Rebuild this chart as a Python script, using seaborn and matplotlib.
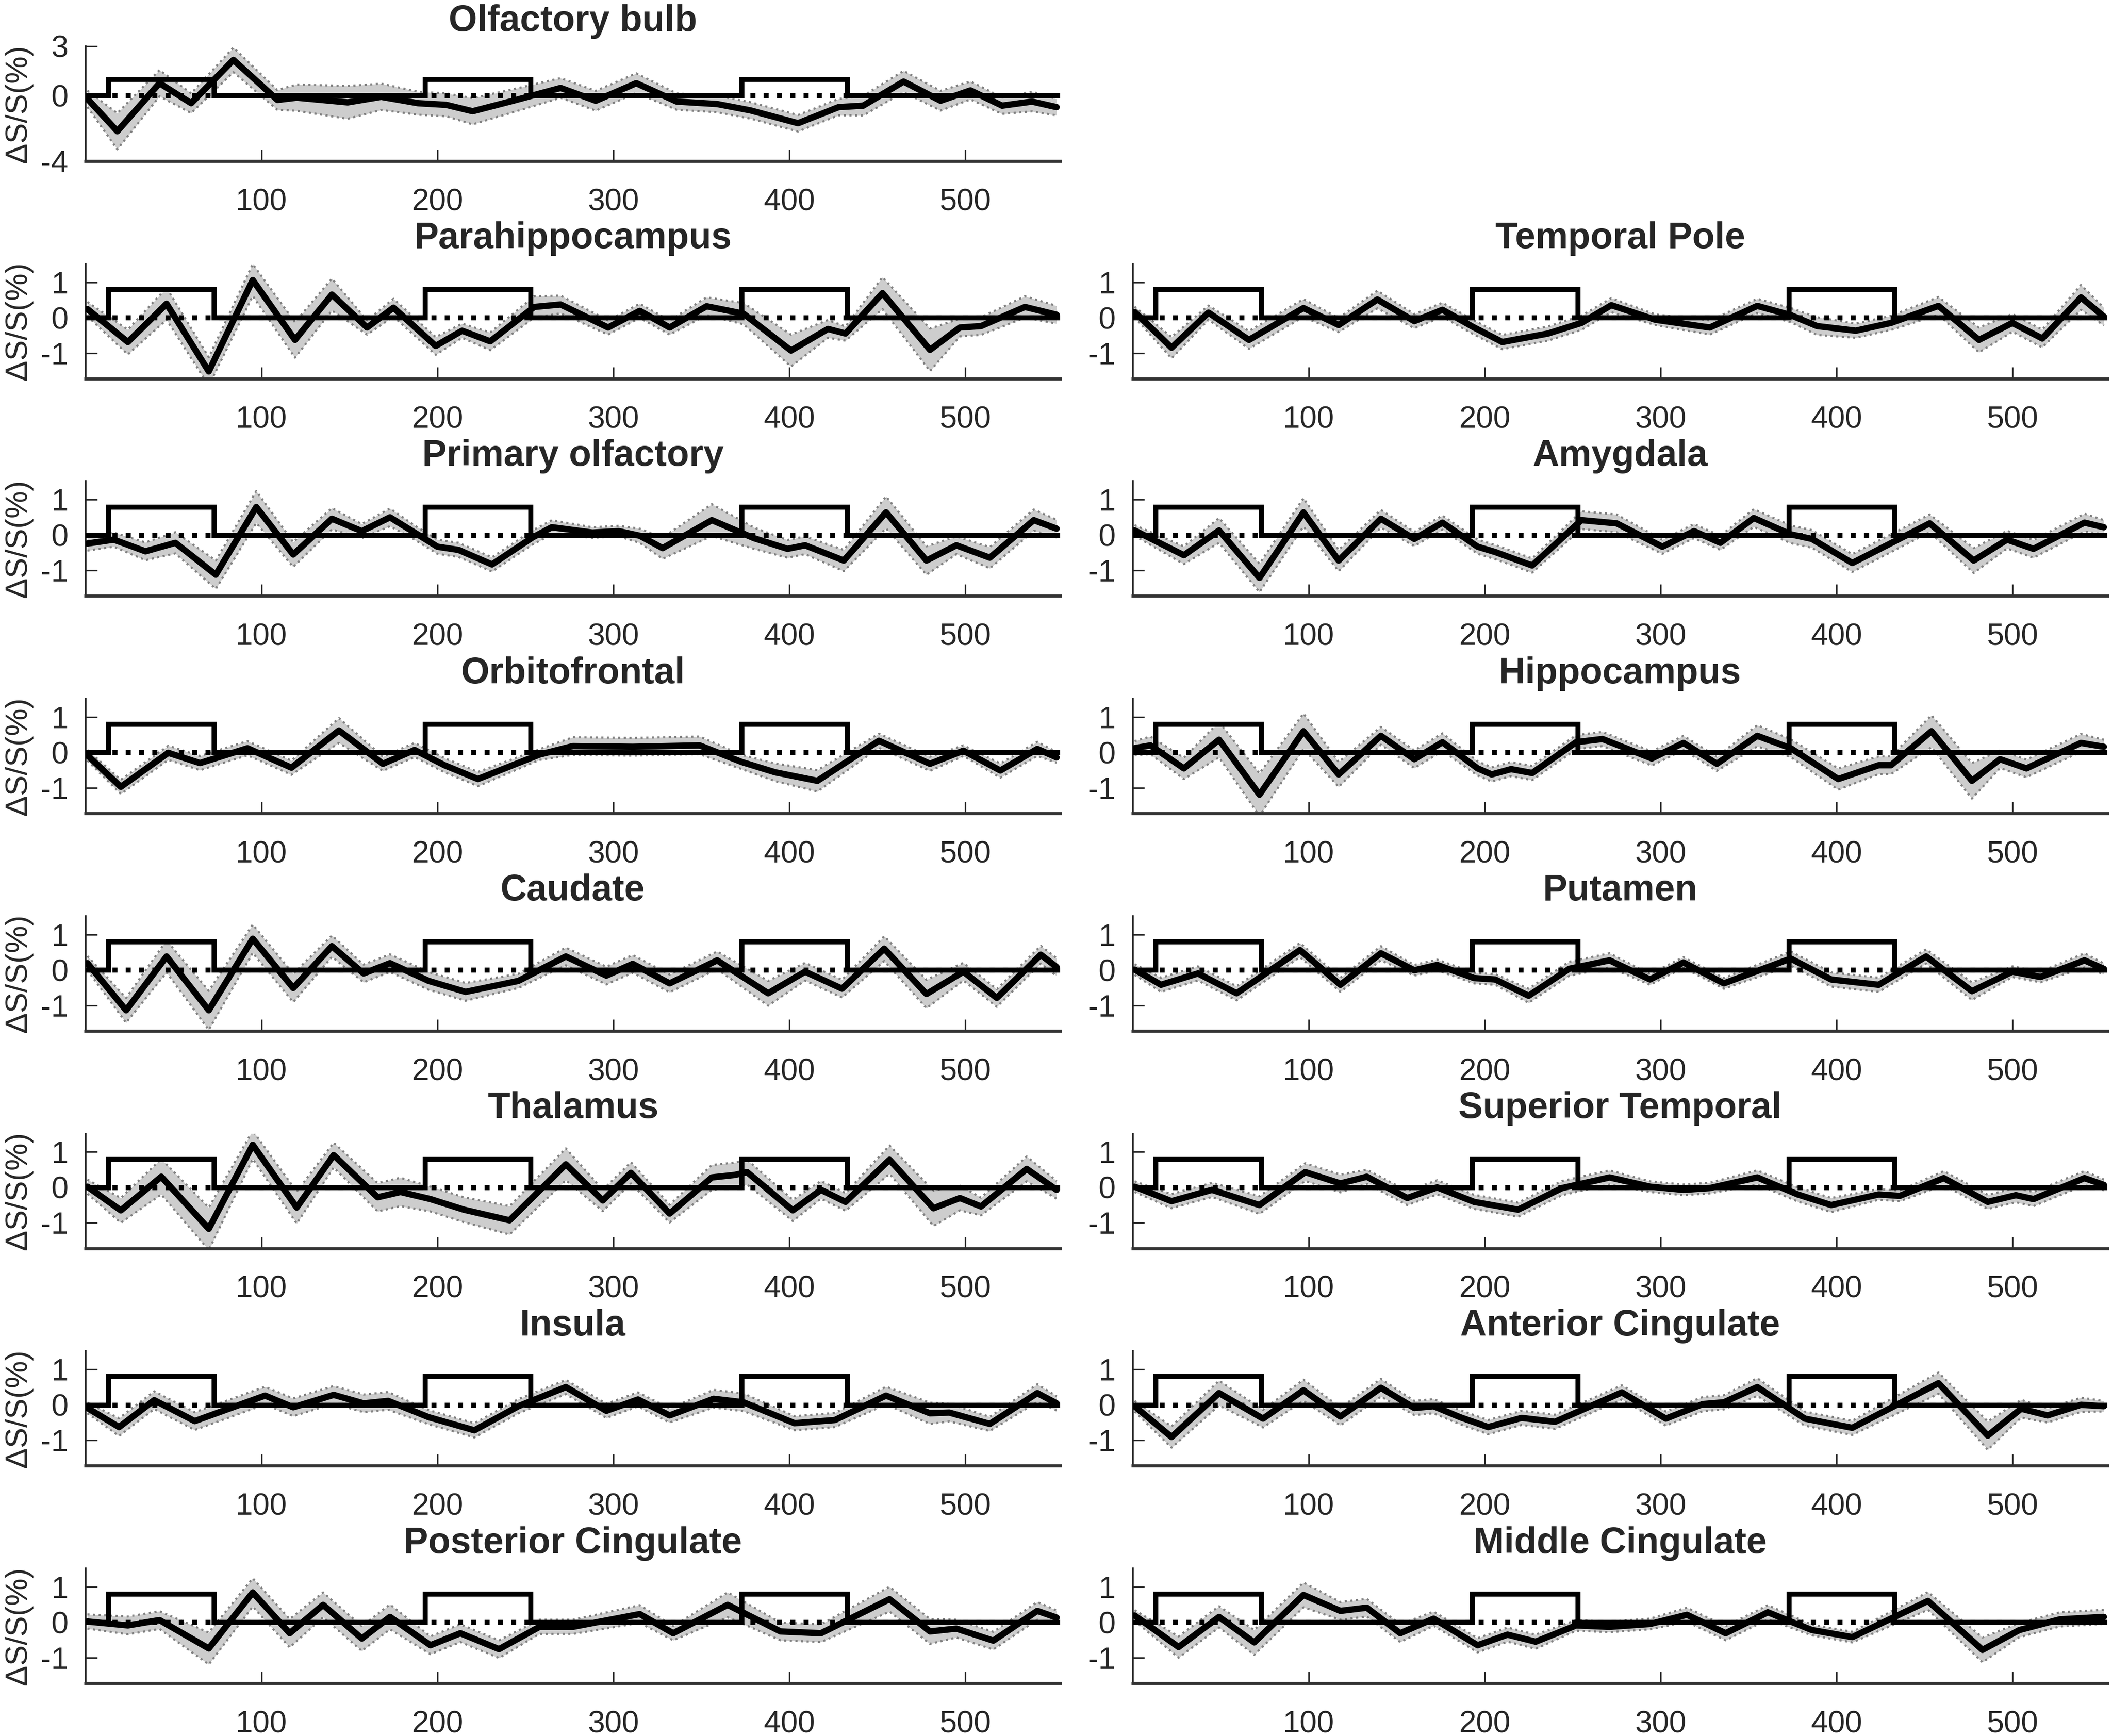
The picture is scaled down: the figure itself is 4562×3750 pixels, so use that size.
import numpy as np
import matplotlib
matplotlib.use("Agg")
import matplotlib.pyplot as plt
import seaborn as sns

# ---------------- DATA ----------------

# stimulus blocks (same in every panel)
block_on = [13, 193, 373]
block_off = [73, 253, 433]

# Olfactory bulb
ob_x = [1, 18, 42, 60, 84, 109, 120, 149, 168, 189, 205, 220, 243, 270, 290, 313, 336, 359, 378, 405, 428, 442, 465, 486, 503, 521, 538, 552]
ob_y = [-0.2, -2.18, 0.75, -0.47, 2.17, -0.27, -0.13, -0.42, -0.08, -0.47, -0.57, -0.96, -0.32, 0.46, -0.32, 0.75, -0.37, -0.52, -0.91, -1.69, -0.71, -0.62, 0.85, -0.32, 0.31, -0.62, -0.37, -0.71]
ob_e = [0.5, 1.1, 0.8, 0.6, 0.75, 0.6, 0.8, 1.0, 0.8, 0.7, 0.7, 0.8, 0.7, 0.6, 0.6, 0.6, 0.5, 0.5, 0.5, 0.5, 0.5, 0.6, 0.65, 0.6, 0.55, 0.5, 0.6, 0.5]

# Parahippocampus
ph_x = [1, 24, 46, 70, 95, 119, 140, 160, 175, 199, 214, 230, 255, 270, 297, 315, 332, 353, 374, 401, 422, 432, 453, 480, 497, 509, 534, 552]
ph_y = [0.24, -0.69, 0.39, -1.52, 1.06, -0.63, 0.65, -0.28, 0.28, -0.80, -0.37, -0.67, 0.30, 0.37, -0.28, 0.19, -0.28, 0.32, 0.11, -0.93, -0.32, -0.45, 0.69, -0.91, -0.28, -0.24, 0.30, 0.08]
ph_e = [0.2, 0.35, 0.45, 0.4, 0.45, 0.5, 0.45, 0.2, 0.25, 0.25, 0.2, 0.25, 0.3, 0.25, 0.2, 0.2, 0.2, 0.25, 0.3, 0.45, 0.25, 0.2, 0.45, 0.6, 0.25, 0.25, 0.3, 0.25]

# Temporal Pole
tp_x = [1, 22, 43, 66, 97, 117, 139, 160, 176, 194, 210, 236, 255, 272, 297, 328, 355, 374, 389, 411, 431, 458, 481, 500, 517, 539, 552]
tp_y = [0.16, -0.85, 0.14, -0.63, 0.27, -0.21, 0.51, -0.10, 0.22, -0.28, -0.69, -0.45, -0.15, 0.35, -0.06, -0.28, 0.33, 0.07, -0.24, -0.37, -0.15, 0.33, -0.63, -0.15, -0.59, 0.57, 0.03]
tp_e = [0.15, 0.3, 0.2, 0.25, 0.25, 0.2, 0.25, 0.2, 0.2, 0.2, 0.2, 0.2, 0.2, 0.2, 0.15, 0.2, 0.2, 0.2, 0.25, 0.2, 0.2, 0.25, 0.35, 0.25, 0.25, 0.35, 0.25]

# Primary olfactory
po_x = [1, 16, 34, 51, 74, 97, 118, 140, 157, 173, 187, 200, 212, 231, 254, 265, 288, 303, 315, 328, 356, 380, 399, 409, 431, 455, 478, 495, 514, 539, 552]
po_y = [-0.24, -0.13, -0.46, -0.22, -1.12, 0.79, -0.55, 0.46, 0.11, 0.50, 0.07, -0.33, -0.42, -0.83, -0.07, 0.22, 0.07, 0.11, -0.02, -0.37, 0.42, -0.09, -0.39, -0.29, -0.72, 0.64, -0.72, -0.29, -0.64, 0.42, 0.18]
po_e = [0.2, 0.2, 0.25, 0.3, 0.4, 0.45, 0.35, 0.3, 0.2, 0.25, 0.2, 0.2, 0.2, 0.2, 0.2, 0.2, 0.15, 0.15, 0.2, 0.3, 0.45, 0.3, 0.25, 0.25, 0.3, 0.45, 0.4, 0.25, 0.3, 0.3, 0.25]

# Amygdala
am_x = [1, 29, 49, 72, 97, 117, 141, 160, 176, 196, 206, 227, 255, 275, 301, 319, 334, 353, 374, 386, 409, 453, 478, 497, 512, 541, 552]
am_y = [0.13, -0.57, 0.13, -1.21, 0.64, -0.72, 0.46, -0.11, 0.35, -0.33, -0.48, -0.86, 0.42, 0.33, -0.33, 0.11, -0.22, 0.48, 0.02, -0.11, -0.79, 0.33, -0.72, -0.13, -0.39, 0.35, 0.22]
am_e = [0.15, 0.25, 0.35, 0.4, 0.4, 0.3, 0.25, 0.2, 0.2, 0.2, 0.2, 0.2, 0.25, 0.25, 0.2, 0.2, 0.2, 0.25, 0.25, 0.25, 0.25, 0.25, 0.35, 0.25, 0.25, 0.25, 0.2]

# Orbitofrontal
of_x = [1, 20, 47, 65, 92, 117, 144, 169, 187, 204, 223, 258, 277, 311, 349, 373, 392, 416, 451, 480, 499, 520, 541, 552]
of_y = [-0.08, -0.97, -0.01, -0.30, 0.12, -0.43, 0.62, -0.32, 0.07, -0.36, -0.75, -0.06, 0.18, 0.16, 0.20, -0.27, -0.56, -0.80, 0.33, -0.32, 0.05, -0.51, 0.10, -0.14]
of_e = [0.15, 0.2, 0.2, 0.2, 0.2, 0.2, 0.35, 0.2, 0.2, 0.2, 0.2, 0.15, 0.25, 0.25, 0.25, 0.2, 0.25, 0.3, 0.2, 0.2, 0.15, 0.2, 0.2, 0.15]

# Hippocampus
hc_x = [1, 10, 29, 49, 72, 97, 117, 141, 160, 176, 196, 204, 215, 227, 252, 267, 295, 313, 332, 355, 374, 401, 424, 431, 454, 477, 493, 508, 539, 552]
hc_y = [0.12, 0.2, -0.45, 0.36, -1.19, 0.60, -0.62, 0.47, -0.19, 0.29, -0.45, -0.62, -0.47, -0.58, 0.29, 0.38, -0.17, 0.27, -0.32, 0.47, 0.12, -0.75, -0.36, -0.36, 0.60, -0.80, -0.19, -0.45, 0.27, 0.16]
hc_e = [0.2, 0.25, 0.3, 0.5, 0.6, 0.5, 0.35, 0.25, 0.25, 0.25, 0.2, 0.2, 0.2, 0.2, 0.2, 0.2, 0.2, 0.2, 0.2, 0.3, 0.25, 0.3, 0.25, 0.25, 0.45, 0.5, 0.25, 0.25, 0.25, 0.2]

# Caudate
cd_x = [1, 23, 46, 70, 95, 118, 140, 158, 173, 195, 216, 246, 273, 296, 311, 332, 359, 388, 409, 430, 454, 478, 499, 518, 543, 552]
cd_y = [0.19, -1.14, 0.38, -1.14, 0.88, -0.51, 0.67, -0.10, 0.19, -0.31, -0.62, -0.31, 0.38, -0.16, 0.17, -0.38, 0.27, -0.66, -0.05, -0.53, 0.60, -0.68, -0.05, -0.79, 0.43, 0.08]
cd_e = [0.2, 0.35, 0.45, 0.55, 0.4, 0.4, 0.3, 0.25, 0.25, 0.25, 0.25, 0.2, 0.25, 0.25, 0.25, 0.25, 0.25, 0.35, 0.25, 0.25, 0.35, 0.4, 0.25, 0.25, 0.25, 0.25]

# Putamen
pt_x = [1, 16, 37, 59, 95, 118, 141, 160, 173, 194, 206, 225, 248, 271, 294, 313, 336, 374, 397, 424, 451, 477, 500, 516, 541, 552]
pt_y = [0.01, -0.42, -0.10, -0.66, 0.56, -0.42, 0.47, -0.01, 0.14, -0.23, -0.27, -0.73, 0.03, 0.27, -0.27, 0.21, -0.38, 0.32, -0.27, -0.42, 0.38, -0.60, -0.05, -0.20, 0.27, 0.03]
pt_e = [0.15, 0.2, 0.2, 0.2, 0.2, 0.2, 0.2, 0.15, 0.15, 0.15, 0.15, 0.2, 0.2, 0.2, 0.15, 0.15, 0.15, 0.2, 0.2, 0.2, 0.2, 0.25, 0.15, 0.15, 0.2, 0.15]

# Thalamus
th_x = [1, 20, 43, 70, 95, 120, 141, 166, 179, 196, 215, 241, 273, 294, 310, 332, 356, 369, 376, 402, 418, 432, 457, 482, 497, 509, 535, 552]
th_y = [0.02, -0.65, 0.30, -1.17, 1.20, -0.57, 0.91, -0.28, -0.13, -0.33, -0.63, -0.93, 0.65, -0.37, 0.41, -0.74, 0.28, 0.35, 0.43, -0.65, -0.07, -0.41, 0.78, -0.59, -0.30, -0.54, 0.52, -0.07]
th_e = [0.2, 0.35, 0.5, 0.6, 0.4, 0.45, 0.35, 0.4, 0.4, 0.35, 0.35, 0.4, 0.45, 0.3, 0.3, 0.25, 0.35, 0.35, 0.35, 0.3, 0.25, 0.25, 0.4, 0.5, 0.35, 0.25, 0.35, 0.25]

# Superior Temporal
st_x = [1, 22, 45, 72, 98, 118, 133, 156, 173, 194, 219, 244, 271, 294, 313, 328, 355, 378, 397, 424, 436, 461, 486, 502, 512, 541, 552]
st_y = [0.02, -0.39, -0.07, -0.50, 0.43, 0.11, 0.30, -0.30, 0.00, -0.41, -0.63, -0.02, 0.28, 0.02, -0.07, -0.02, 0.28, -0.20, -0.50, -0.20, -0.24, 0.26, -0.41, -0.22, -0.33, 0.26, 0.07]
st_e = [0.15, 0.2, 0.2, 0.25, 0.25, 0.25, 0.2, 0.2, 0.2, 0.2, 0.2, 0.2, 0.2, 0.15, 0.15, 0.15, 0.2, 0.2, 0.2, 0.15, 0.15, 0.2, 0.2, 0.2, 0.2, 0.2, 0.15]

# Insula
in_x = [1, 19, 39, 62, 102, 118, 141, 158, 172, 195, 221, 246, 273, 296, 314, 332, 357, 374, 403, 426, 455, 480, 491, 514, 541, 552]
in_y = [-0.09, -0.63, 0.13, -0.46, 0.26, -0.07, 0.28, 0.04, 0.11, -0.35, -0.72, -0.04, 0.50, -0.17, 0.15, -0.30, 0.17, 0.07, -0.52, -0.43, 0.26, -0.24, -0.22, -0.54, 0.33, 0.04]
in_e = [0.15, 0.25, 0.25, 0.25, 0.25, 0.25, 0.25, 0.25, 0.25, 0.2, 0.2, 0.2, 0.2, 0.2, 0.2, 0.2, 0.25, 0.25, 0.2, 0.2, 0.25, 0.3, 0.25, 0.2, 0.25, 0.2]

# Anterior Cingulate
ac_x = [1, 22, 49, 74, 97, 118, 141, 160, 171, 186, 202, 221, 240, 278, 303, 324, 336, 355, 382, 409, 458, 486, 505, 520, 539, 552]
ac_y = [-0.04, -0.91, 0.33, -0.39, 0.41, -0.33, 0.48, -0.09, -0.04, -0.35, -0.63, -0.37, -0.48, 0.35, -0.39, 0.02, 0.07, 0.50, -0.39, -0.65, 0.61, -0.87, -0.11, -0.30, 0.00, -0.04]
ac_e = [0.15, 0.3, 0.35, 0.25, 0.3, 0.25, 0.25, 0.2, 0.2, 0.2, 0.2, 0.2, 0.2, 0.2, 0.2, 0.2, 0.2, 0.25, 0.2, 0.2, 0.3, 0.4, 0.25, 0.2, 0.2, 0.15]

# Posterior Cingulate
pc_x = [1, 24, 42, 70, 95, 116, 135, 157, 173, 196, 213, 235, 258, 277, 315, 334, 365, 395, 418, 457, 480, 495, 516, 541, 552]
pc_y = [0.02, -0.09, 0.06, -0.74, 0.84, -0.31, 0.49, -0.46, 0.15, -0.65, -0.31, -0.76, -0.13, -0.13, 0.23, -0.31, 0.49, -0.26, -0.31, 0.65, -0.26, -0.18, -0.52, 0.32, 0.13]
pc_e = [0.2, 0.25, 0.25, 0.45, 0.4, 0.4, 0.35, 0.35, 0.35, 0.25, 0.25, 0.25, 0.2, 0.2, 0.25, 0.2, 0.35, 0.25, 0.25, 0.35, 0.35, 0.25, 0.25, 0.25, 0.2]

# Middle Cingulate
mc_x = [1, 26, 49, 69, 97, 118, 133, 152, 171, 196, 213, 229, 252, 271, 294, 315, 337, 361, 386, 409, 452, 483, 504, 527, 552]
mc_y = [0.19, -0.70, 0.15, -0.57, 0.77, 0.32, 0.41, -0.31, 0.10, -0.65, -0.35, -0.55, -0.09, -0.13, -0.05, 0.21, -0.31, 0.28, -0.22, -0.42, 0.60, -0.78, -0.22, 0.08, 0.15]
mc_e = [0.15, 0.3, 0.3, 0.35, 0.35, 0.25, 0.25, 0.25, 0.2, 0.2, 0.2, 0.2, 0.15, 0.15, 0.15, 0.2, 0.2, 0.2, 0.15, 0.15, 0.25, 0.35, 0.2, 0.2, 0.2]

x_ticks = [100, 200, 300, 400, 500]
x_max = 554

# (row, col): title, x, mean, sem
panels = {
    (0, 0): ("Olfactory bulb", ob_x, ob_y, ob_e),
    (1, 0): ("Parahippocampus", ph_x, ph_y, ph_e),
    (1, 1): ("Temporal Pole", tp_x, tp_y, tp_e),
    (2, 0): ("Primary olfactory", po_x, po_y, po_e),
    (2, 1): ("Amygdala", am_x, am_y, am_e),
    (3, 0): ("Orbitofrontal", of_x, of_y, of_e),
    (3, 1): ("Hippocampus", hc_x, hc_y, hc_e),
    (4, 0): ("Caudate", cd_x, cd_y, cd_e),
    (4, 1): ("Putamen", pt_x, pt_y, pt_e),
    (5, 0): ("Thalamus", th_x, th_y, th_e),
    (5, 1): ("Superior Temporal", st_x, st_y, st_e),
    (6, 0): ("Insula", in_x, in_y, in_e),
    (6, 1): ("Anterior Cingulate", ac_x, ac_y, ac_e),
    (7, 0): ("Posterior Cingulate", pc_x, pc_y, pc_e),
    (7, 1): ("Middle Cingulate", mc_x, mc_y, mc_e),
}


# ---------------- STYLE ----------------

sns.set_style("ticks")
plt.rcParams["font.family"] = ["Liberation Sans", "DejaVu Sans"]
plt.rcParams["axes.unicode_minus"] = False

W, H = 4562, 3750
fig = plt.figure(figsize=(W / 300, H / 300), dpi=300)

col_x0 = [185 / W, 2447 / W]
ax_w = 2105 / W
ax_h = 248 / H


def stimulus_trace(height):
    sx, sy = [1], [0]
    for on, off in zip(block_on, block_off):
        sx += [on, on, off, off]
        sy += [0, height, height, 0]
    sx.append(x_max)
    sy.append(0)
    return sx, sy


def draw_panel(ax, title, x, y, e, is_bulb, show_ylabel):
    x = np.array(x, dtype=float)
    y = np.array(y, dtype=float)
    e = np.array(e, dtype=float)

    ax.fill_between(x, y - e, y + e, color="#cdcdcd", linewidth=0, zorder=1)
    ax.plot(x, y + e, ls=":", color="0.5", lw=1.1, zorder=2)
    ax.plot(x, y - e, ls=":", color="0.5", lw=1.1, zorder=2)

    ax.axhline(0, ls=":", color="k", lw=2.6, zorder=3)
    sx, sy = stimulus_trace(1.0 if is_bulb else 0.8)
    ax.plot(sx, sy, color="k", lw=2.6, solid_joinstyle="miter", zorder=3)

    sns.lineplot(x=x, y=y, ax=ax, color="k", linewidth=3.3, sort=False,
                 estimator=None, zorder=4)
    ax.lines[-1].set_solid_joinstyle("round")

    ax.set_xlim(0, x_max)
    if is_bulb:
        ax.set_ylim(-4, 3)
        ax.set_yticks([-4, 0, 3])
    else:
        ax.set_ylim(-1.72, 1.52)
        ax.set_yticks([-1, 0, 1])
    ax.set_xticks(x_ticks)

    sns.despine(ax=ax)
    ax.spines["left"].set_linewidth(0.9)
    ax.spines["bottom"].set_linewidth(1.6)
    ax.spines["bottom"].set_color("0.2")
    ax.tick_params(direction="in", length=6, width=0.8, labelsize=16)
    ax.tick_params(axis="x", pad=14)
    ax.tick_params(axis="y", pad=9)

    ax.set_title(title, fontsize=19, fontweight="bold", pad=8)
    ax.set_xlabel("")
    if show_ylabel:
        ax.set_ylabel("ΔS/S(%)", fontsize=16, labelpad=4)
    else:
        ax.set_ylabel("")


for (row, col), (title, x, y, e) in panels.items():
    top = (100 + 469.7 * row) / H
    ax = fig.add_axes([col_x0[col], 1 - top - ax_h, ax_w, ax_h])
    draw_panel(ax, title, x, y, e, row == 0, col == 0)

fig.savefig("out.png", dpi=300, facecolor="white")
